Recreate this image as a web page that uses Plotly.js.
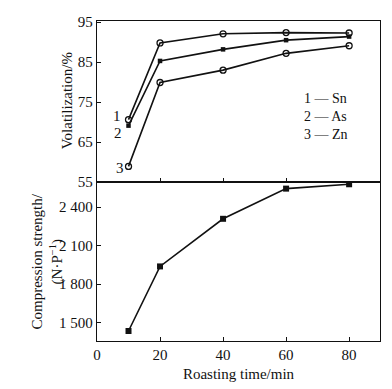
<!DOCTYPE html>
<html><head><meta charset="utf-8">
<script src="https://cdn.plot.ly/plotly-3.0.1.min.js"></script>
<style>html,body{margin:0;padding:0;background:#fff;}#chart{width:392px;height:389px;}</style>
</head><body><div id="chart"></div>
<script>
const time = [10, 20, 40, 60, 80];
const sn = [70.6, 89.8, 92.1, 92.4, 92.3];
const as = [69.1, 85.3, 88.2, 90.5, 91.4];
const zn = [58.9, 79.9, 83.0, 87.2, 89.1];
const strength = [1435, 1938, 2309, 2544, 2578];
const volTicks = [55, 65, 75, 85, 95];
const strTicks = [1500, 1800, 2100, 2400];
const strTickText = ['1 500', '1 800', '2 100', '2 400'];
const xTicks = [0, 20, 40, 60, 80];
const legendText = ['1 — Sn', '2 — As', '3 — Zn'];

const F = 'Liberation Serif, Times New Roman, serif';
const lineStyle = {color: '#111', width: 1.6};
const traces = [
  {x: time, y: sn, xaxis: 'x2', yaxis: 'y2', mode: 'lines+markers', line: lineStyle,
   marker: {symbol: 'circle-open', size: 6, color: '#111', line: {width: 1.3}}},
  {x: time, y: as, xaxis: 'x2', yaxis: 'y2', mode: 'lines+markers', line: lineStyle,
   marker: {symbol: 'square', size: 4.5, color: '#111'}},
  {x: time, y: zn, xaxis: 'x2', yaxis: 'y2', mode: 'lines+markers', line: lineStyle,
   marker: {symbol: 'circle-open', size: 6, color: '#111', line: {width: 1.3}}},
  {x: time, y: strength, xaxis: 'x', yaxis: 'y', mode: 'lines+markers', line: lineStyle,
   marker: {symbol: 'square', size: 6, color: '#111'}}
];
const axBase = {showgrid: false, zeroline: false, linecolor: '#111', linewidth: 1.2,
  ticks: 'inside', ticklen: 4, tickcolor: '#111', tickfont: {family: F, size: 15, color: '#111'}};
const legFont = {family: F, size: 14, color: '#111'};
const layout = {
  width: 392, height: 389, showlegend: false,
  margin: {l: 97, r: 12, t: 21, b: 48},
  paper_bgcolor: '#fff', plot_bgcolor: '#fff',
  font: {family: F, color: '#111'},
  xaxis: Object.assign({}, axBase, {domain: [0, 1], range: [0, 89.8], anchor: 'y',
    tickvals: xTicks, ticktext: xTicks.map(String), mirror: true,
    title: {text: 'Roasting time/min', font: {family: F, size: 15, color: '#111'}, standoff: 6}}),
  yaxis: Object.assign({}, axBase, {domain: [0, 0.497], range: [1357, 2596], anchor: 'x',
    tickvals: strTicks, ticktext: strTickText, mirror: true}),
  xaxis2: Object.assign({}, axBase, {domain: [0, 1], range: [0, 89.8], anchor: 'y2', matches: 'x',
    tickvals: [20, 40, 60], showticklabels: false, mirror: true}),
  yaxis2: Object.assign({}, axBase, {domain: [0.497, 1], range: [55, 95.3], anchor: 'x2',
    tickvals: volTicks, ticktext: volTicks.map(String), mirror: true}),
  annotations: [
    {text: 'Volatilization/%', xref: 'paper', yref: 'paper', x: -0.105, y: 0.75, textangle: -90,
     showarrow: false, font: {family: F, size: 15, color: '#111'}, xanchor: 'center', yanchor: 'middle'},
    {text: 'Compression strength/<br>(N·P<sup>−1</sup>)', xref: 'paper', yref: 'paper', x: -0.175, y: 0.25,
     textangle: -90, showarrow: false, font: {family: F, size: 15, color: '#111'}, xanchor: 'center', yanchor: 'middle'},
    {text: '1', xref: 'x2', yref: 'y2', x: 6.4, y: 71.6, showarrow: false, font: {family: F, size: 15, color: '#111'}},
    {text: '2', xref: 'x2', yref: 'y2', x: 6.6, y: 67.3, showarrow: false, font: {family: F, size: 15, color: '#111'}},
    {text: '3', xref: 'x2', yref: 'y2', x: 7.3, y: 58.6, showarrow: false, font: {family: F, size: 15, color: '#111'}},
    {text: legendText.join('<br>'), xref: 'paper', yref: 'y2', x: 0.725, y: 71.3, xanchor: 'left', yanchor: 'middle',
     align: 'left', showarrow: false, font: legFont}
  ]
};
Plotly.newPlot('chart', traces, layout, {displayModeBar: false, staticPlot: true});
</script></body></html>
